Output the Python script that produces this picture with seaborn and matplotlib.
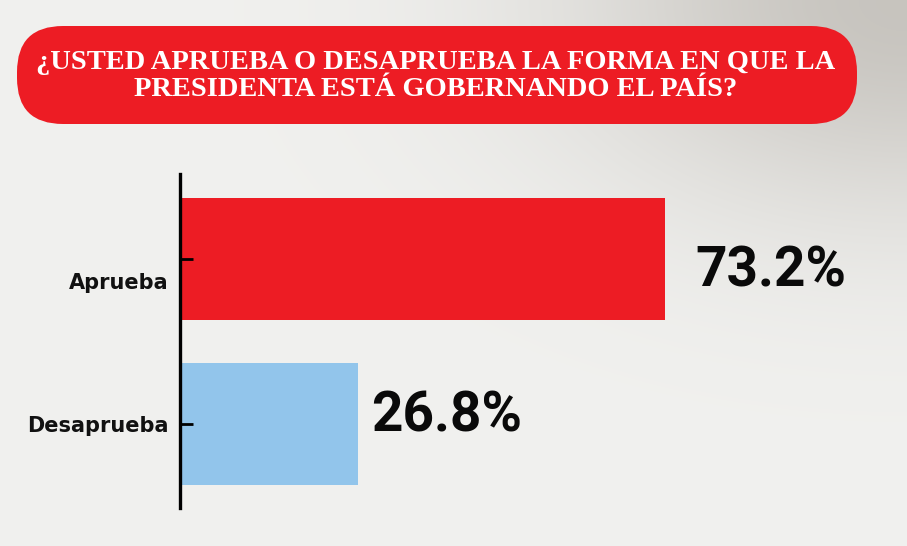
import matplotlib
matplotlib.use('Agg')
import matplotlib.pyplot as plt
from matplotlib.patches import FancyBboxPatch
import matplotlib.transforms as mtransforms
import numpy as np
import seaborn as sns
import pandas as pd

categories = ['Aprueba', 'Desaprueba']
values = [73.2, 26.8]
value_labels = ['73.2%', '26.8%']
bar_colors = ['#ED1C24', '#92C5EB']
title = '¿USTED APRUEBA O DESAPRUEBA LA FORMA EN QUE LA\nPRESIDENTA ESTÁ GOBERNANDO EL PAÍS?'

df = pd.DataFrame({'respuesta': categories, 'pct': values})

sns.set_style('white')
bg = '#efefed'
fig = plt.figure(figsize=(9.07, 5.46), dpi=100, facecolor=bg)

# background layer in pixel coordinates (paper tone, greyer to the top right)
bgax = fig.add_axes([0, 0, 1, 1], zorder=-1)
bgax.set_xlim(0, 907)
bgax.set_ylim(546, 0)
bgax.axis('off')
yy, xx = np.mgrid[0:546:2, 0:907:2]
shade = 0.8 * np.exp(-((xx - 907) ** 2 / (2 * 240.0 ** 2) + yy ** 2 / (2 * 150.0 ** 2)))
base = np.array([0.945, 0.945, 0.937])
dark = np.array([0.74, 0.725, 0.70])
img = base[None, None, :] * (1 - shade[..., None]) + dark[None, None, :] * shade[..., None]
bgax.imshow(img, extent=(0, 907, 546, 0), aspect='auto', interpolation='bilinear')

banner = FancyBboxPatch((17, 26), 840, 98, boxstyle='round,pad=0,rounding_size=46',
                        facecolor='#ED1C24', edgecolor='none')
bgax.add_patch(banner)
bgax.text(436, 76, title, ha='center', va='center', color='white',
          fontsize=20.5, fontweight='bold', family=['Liberation Serif', 'DejaVu Serif'],
          linespacing=1.1)

# chart axes: spine at x=180px, from y=174 to y=508
ax = fig.add_axes([180 / 907, 38 / 546, 720 / 907, 334 / 546])
ax.set_facecolor('none')

sns.barplot(data=df, x='pct', y='respuesta', hue='respuesta', palette=bar_colors,
            width=0.74, legend=False, ax=ax, saturation=1, linewidth=0)

pads = [22, 10]
shifts = [-9, 5]  # points, labels sit slightly off the bar centre
for cont, lab, pad, dy in zip(ax.containers, value_labels, pads, shifts):
    txts = ax.bar_label(cont, labels=[lab], padding=pad, fontsize=39.5, fontweight='bold',
                        family=['Roboto', 'DejaVu Sans'], color='#0a0a0a')
    for t in txts:
        t.xyann = (t.xyann[0], t.xyann[1] + dy)

ax.set_xlim(0, 108.7)
ax.set_ylim(1.51, -0.515)
ax.set_xlabel('')
ax.set_ylabel('')
ax.set_xticks([])
ax.set_axisbelow(False)
for s in ['top', 'right', 'bottom']:
    ax.spines[s].set_visible(False)
ax.spines['left'].set_linewidth(2.4)
ax.spines['left'].set_color('black')
ax.tick_params(axis='y', left=True, direction='in', length=9, width=2, color='black',
               labelsize=15, pad=8)
for t in ax.get_yticklabels():
    t.set_fontweight('bold')
    t.set_color('#111111')
# the "Aprueba" label sits a bit below its tick in the original
ylabs = ax.get_yticklabels()
ylabs[0].set_transform(ylabs[0].get_transform() + mtransforms.ScaledTranslation(0, -0.22, fig.dpi_scale_trans))

fig.savefig('out.png', dpi=100, facecolor=bg)
